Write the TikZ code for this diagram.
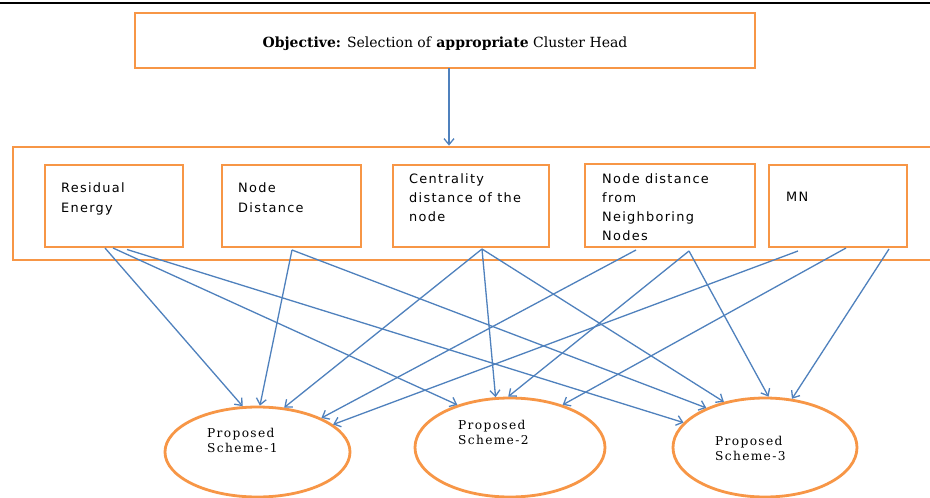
\documentclass[tikz,border=0pt]{standalone}
\usepackage{fontspec}
\setmainfont{DejaVu Serif}
\newfontfamily\boxfont[LetterSpace=10]{DejaVu Sans}
\newfontfamily\ellfont[LetterSpace=11]{DejaVu Serif}
\newfontfamily\objfont{DejaVu Serif}
\usetikzlibrary{arrows.meta,shapes.geometric}
\definecolor{orng}{HTML}{F79646}
\definecolor{blu}{HTML}{4F81BD}
\begin{document}
\begin{tikzpicture}[x=1pt,y=-1pt,
  obox/.style={draw=orng, line width=2.8pt, rectangle, inner sep=0pt},
  ell/.style={draw=orng, line width=2.8pt, ellipse, inner sep=0pt},
  conn/.style={draw=blu, line width=1.3pt, -{Straight Barb[length=6pt,width=10pt]}},
  lbl/.style={anchor=base west, inner sep=0pt, font=\boxfont\fontsize{12.9}{15}\selectfont},
  elbl/.style={anchor=base west, inner sep=0pt, font=\ellfont\fontsize{12.2}{15}\selectfont},
]
\useasboundingbox (0,0) rectangle (930,498);
\fill[white] (0,0) rectangle (930,498);
\draw[black, line width=1.5pt] (0,3) -- (930,3);

% boxes
\node[obox, minimum width=620pt, minimum height=55pt] (obj) at (445,40.5) {};
\node[obox, minimum width=932pt, minimum height=113pt] (outer) at (479,203.5) {};
\node[obox, minimum width=138pt, minimum height=82pt] (res) at (114,206) {};
\node[obox, minimum width=139pt, minimum height=82pt] (nd) at (291.5,206) {};
\node[obox, minimum width=156pt, minimum height=82pt] (cen) at (471,206) {};
\node[obox, minimum width=170pt, minimum height=83pt] (nbr) at (670,205.5) {};
\node[obox, minimum width=138pt, minimum height=82pt] (mn) at (838,206) {};

% ellipses
\node[ell, minimum width=185pt, minimum height=90pt] (s1) at (257.5,452) {};
\node[ell, minimum width=190pt, minimum height=99pt] (s2) at (510,447.5) {};
\node[ell, minimum width=184pt, minimum height=99pt] (s3) at (765,447.5) {};

% texts
\node[anchor=base, inner sep=0pt, font=\objfont\fontsize{14}{16}\selectfont] (objt) at (445,47.5)
  {\textbf{Objective:} Selection of \textbf{appropriate} Cluster Head};
\node[lbl] (t1a) at (61,192.7) {Residual};
\node[lbl] (t1b) at (61,212) {Energy};
\node[lbl] (t2a) at (238,192.7) {Node};
\node[lbl] (t2b) at (238,212) {Distance};
\node[lbl] (t3a) at (409,183.3) {Centrality};
\node[lbl] (t3b) at (409,202.3) {distance of the};
\node[lbl] (t3c) at (409,221.7) {node};
\node[lbl] (t4a) at (602,183.3) {Node distance};
\node[lbl] (t4b) at (602,202.3) {from};
\node[lbl] (t4c) at (602,221.7) {Neighboring};
\node[lbl] (t4d) at (602,240.7) {Nodes};
\node[lbl] (t5) at (786,201.7) {MN};
\node[elbl] (e1a) at (207,437.3) {Proposed};
\node[elbl] (e1b) at (207,452.3) {Scheme-1};
\node[elbl] (e2a) at (458,429.3) {Proposed};
\node[elbl] (e2b) at (458,444.3) {Scheme-2};
\node[elbl] (e3a) at (715,445) {Proposed};
\node[elbl] (e3b) at (715,460.7) {Scheme-3};

% connector start points
\coordinate (oa) at (449,68);
\coordinate (r1) at (105,248);
\coordinate (r2) at (113,248);
\coordinate (r3) at (127,249.5);
\coordinate (n1) at (292,250);
\coordinate (c1) at (482,249);
\coordinate (g1) at (636,250);
\coordinate (g2) at (689,251);
\coordinate (m1) at (798,251);
\coordinate (m2) at (846,248);
\coordinate (m3) at (889,249);

\draw[conn] (oa) -- (oa |- outer.north);
\draw[conn] (r1) -- (s1.108.6);
\draw[conn] (r2) -- (s2.141);
\draw[conn] (r3) -- (s3.163.9);
\draw[conn] (n1) -- (s1.87);
\draw[conn] (n1) -- (s3.146.8);
\draw[conn] (c1) -- (s1.59.1);
\draw[conn] (c1) -- (s2.106.5);
\draw[conn] (c1) -- (s3.132.3);
\draw[conn] (g1) -- (s1.28.8);
\draw[conn] (g2) -- (s2.92.3);
\draw[conn] (g2) -- (s3.86.6);
\draw[conn] (m1) -- (s1.20.3);
\draw[conn] (m2) -- (s2.39);
\draw[conn] (m3) -- (s3.61.4);
\end{tikzpicture}
\end{document}
